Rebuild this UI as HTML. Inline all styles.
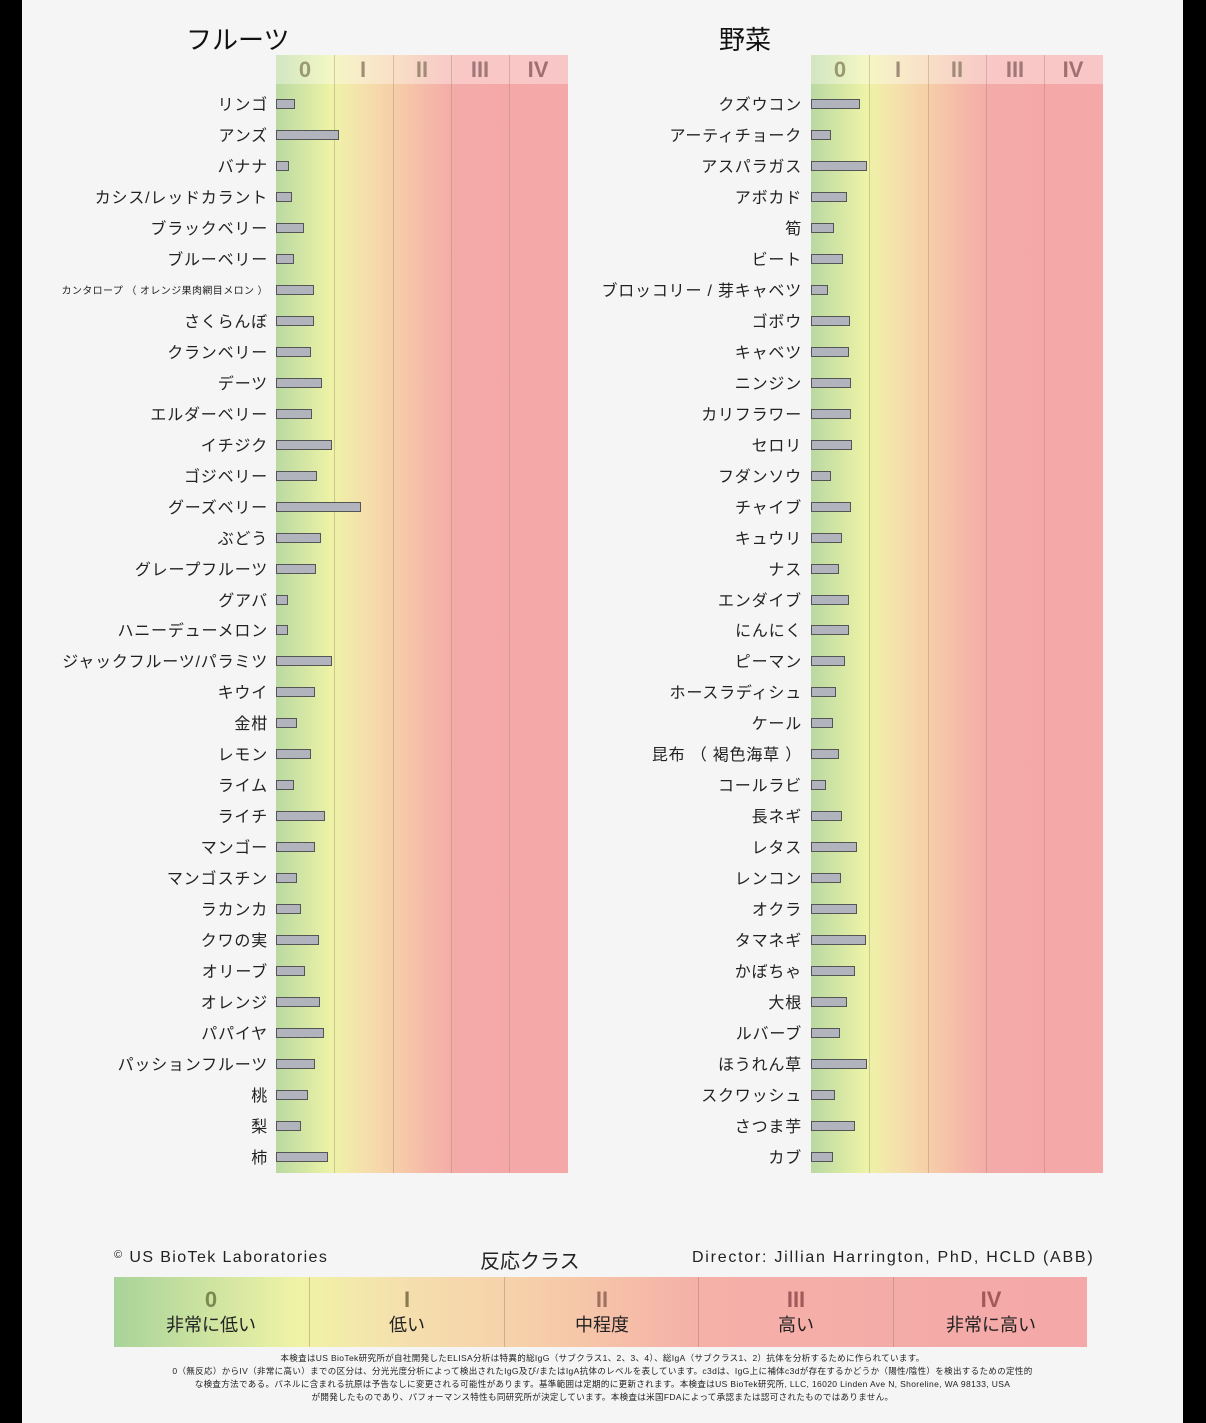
<!DOCTYPE html>
<html><head><meta charset="utf-8"><style>
body{margin:0;width:1206px;height:1423px;background:#000;position:relative;overflow:hidden;font-family:"Liberation Sans","Noto Sans CJK JP",sans-serif;}
#pg{position:absolute;left:22px;top:0;width:1161px;height:1423px;background:#f5f5f5;}
.a{position:absolute;}
.plot{position:absolute;top:55px;width:292px;height:1118px;background:linear-gradient(90deg,#b9d9a2 0%,#eef3a6 19%,#f5e0ac 30%,#f6cfa8 40%,#f5b9a8 52%,#f4aaa8 62%,#f4a8a8 100%);}
.hd{position:absolute;left:0;top:0;width:292px;height:29px;background:rgba(255,255,255,0.35);}
.vl{position:absolute;top:0;width:1px;height:1118px;background:rgba(150,120,100,0.35);}
.hn{position:absolute;top:2px;width:58px;text-align:center;font-weight:bold;font-size:22px;color:#a08c78;}
.lb{position:absolute;width:260px;text-align:right;font-size:16px;color:#222;line-height:20px;white-space:nowrap;letter-spacing:0.8px;}
.br{position:absolute;height:8px;background:#b1b4bd;border:1px solid #555;}
.title{position:absolute;font-size:26px;color:#111;}
.leg{position:absolute;left:92px;top:1277px;width:973px;height:70px;background:linear-gradient(90deg,#a9d39a 0%,#f0f3a6 19%,#f5dfae 30%,#f6cca8 45%,#f5b0a8 60%,#f4a8a8 100%);}
.lc{position:absolute;top:0;width:194px;height:70px;text-align:center;font-size:18px;color:#222;}
.lc b{display:block;font-size:22px;margin-top:12px;line-height:22px;}
.ft{position:absolute;left:0;width:1161px;text-align:center;font-size:8.5px;color:#222;white-space:nowrap;letter-spacing:0.35px;}
</style></head><body><div id="pg">
<div class="title" style="left:164px;top:20px">フルーツ</div>
<div class="title" style="left:697px;top:20px">野菜</div>

<div class="plot" style="left:254px"><div class="hd"></div>
<div class="vl" style="left:58px"></div><div class="vl" style="left:117px"></div><div class="vl" style="left:175px"></div><div class="vl" style="left:233px"></div>
<div class="hn" style="left:0;color:#9a9a70">0</div><div class="hn" style="left:58px">I</div><div class="hn" style="left:117px">II</div><div class="hn" style="left:175px;color:#a07878">III</div><div class="hn" style="left:233px;color:#a07070">IV</div></div>
<div class="plot" style="left:789px"><div class="hd"></div>
<div class="vl" style="left:58px"></div><div class="vl" style="left:117px"></div><div class="vl" style="left:175px"></div><div class="vl" style="left:233px"></div>
<div class="hn" style="left:0;color:#9a9a70">0</div><div class="hn" style="left:58px">I</div><div class="hn" style="left:117px">II</div><div class="hn" style="left:175px;color:#a07878">III</div><div class="hn" style="left:233px;color:#a07070">IV</div></div>

<div id="rows"></div>
<script>
var F=[["リンゴ",295],["アンズ",339],["バナナ",289],["カシス/レッドカラント",292],["ブラックベリー",304],["ブルーベリー",294],["カンタロープ （ オレンジ果肉網目メロン ）",314],["さくらんぼ",314],["クランベリー",311],["デーツ",322],["エルダーベリー",312],["イチジク",332],["ゴジベリー",317],["グーズベリー",361],["ぶどう",321],["グレープフルーツ",316],["グアバ",288],["ハニーデューメロン",288],["ジャックフルーツ/パラミツ",332],["キウイ",315],["金柑",297],["レモン",311],["ライム",294],["ライチ",325],["マンゴー",315],["マンゴスチン",297],["ラカンカ",301],["クワの実",319],["オリーブ",305],["オレンジ",320],["パパイヤ",324],["パッションフルーツ",315],["桃",308],["梨",301],["柿",328]];
var V=[["クズウコン",860],["アーティチョーク",831],["アスパラガス",867],["アボカド",847],["筍",834],["ビート",843],["ブロッコリー / 芽キャベツ",828],["ゴボウ",850],["キャベツ",849],["ニンジン",851],["カリフラワー",851],["セロリ",852],["フダンソウ",831],["チャイブ",851],["キュウリ",842],["ナス",839],["エンダイブ",849],["にんにく",849],["ピーマン",845],["ホースラディシュ",836],["ケール",833],["昆布 （ 褐色海草 ）",839],["コールラビ",826],["長ネギ",842],["レタス",857],["レンコン",841],["オクラ",857],["タマネギ",866],["かぼちゃ",855],["大根",847],["ルバーブ",840],["ほうれん草",867],["スクワッシュ",835],["さつま芋",855],["カブ",833]];
var h="";
function add(L,x0,lr){for(var i=0;i<L.length;i++){var y=104+i*30.97;var s=L[i][0].length>20?'font-size:10px;letter-spacing:0.4px;':'';
h+='<div class="lb" style="left:'+(lr-22-260)+'px;top:'+(y-8)+'px;'+s+'">'+L[i][0]+'</div>';
h+='<div class="br" style="left:'+(x0-22)+'px;top:'+(y-5)+'px;width:'+(L[i][1]-x0-2)+'px"></div>';}}
add(F,276,268);add(V,811,802);
document.getElementById('rows').innerHTML=h;
</script>

<div class="a" style="left:92px;top:1249px;font-size:16px;color:#222;letter-spacing:1.4px"><span style="font-size:11px;vertical-align:top">©</span> US BioTek Laboratories</div>
<div class="a" style="left:458px;top:1245px;font-size:20px;color:#222">反応クラス</div>
<div class="a" style="left:670px;top:1249px;font-size:16px;color:#222;letter-spacing:1.75px">Director: Jillian Harrington, PhD, HCLD (ABB)</div>
<div class="leg">
<div class="lc" style="left:0"><b style="color:#7a8a50">0</b>非常に低い</div>
<div class="lc" style="left:195px;border-left:1px solid rgba(150,120,100,.4)"><b style="color:#8a7a50">I</b>低い</div>
<div class="lc" style="left:390px;border-left:1px solid rgba(150,120,100,.4)"><b style="color:#a07060">II</b>中程度</div>
<div class="lc" style="left:584px;border-left:1px solid rgba(150,120,100,.4)"><b style="color:#a05a5a">III</b>高い</div>
<div class="lc" style="left:779px;border-left:1px solid rgba(150,120,100,.4)"><b style="color:#a05a5a">IV</b>非常に高い</div>
</div>
<div class="ft" style="top:1352px">本検査はUS BioTek研究所が自社開発したELISA分析は特異的総IgG（サブクラス1、2、3、4）、総IgA（サブクラス1、2）抗体を分析するために作られています。</div>
<div class="ft" style="top:1365px">0（無反応）からIV（非常に高い）までの区分は、分光光度分析によって検出されたIgG及び/またはIgA抗体のレベルを表しています。c3dは、IgG上に補体c3dが存在するかどうか（陽性/陰性）を検出するための定性的</div>
<div class="ft" style="top:1378px">な検査方法である。パネルに含まれる抗原は予告なしに変更される可能性があります。基準範囲は定期的に更新されます。本検査はUS BioTek研究所, LLC, 16020 Linden Ave N, Shoreline, WA 98133, USA</div>
<div class="ft" style="top:1391px">が開発したものであり、パフォーマンス特性も同研究所が決定しています。本検査は米国FDAによって承認または認可されたものではありません。</div>
</div></body></html>
